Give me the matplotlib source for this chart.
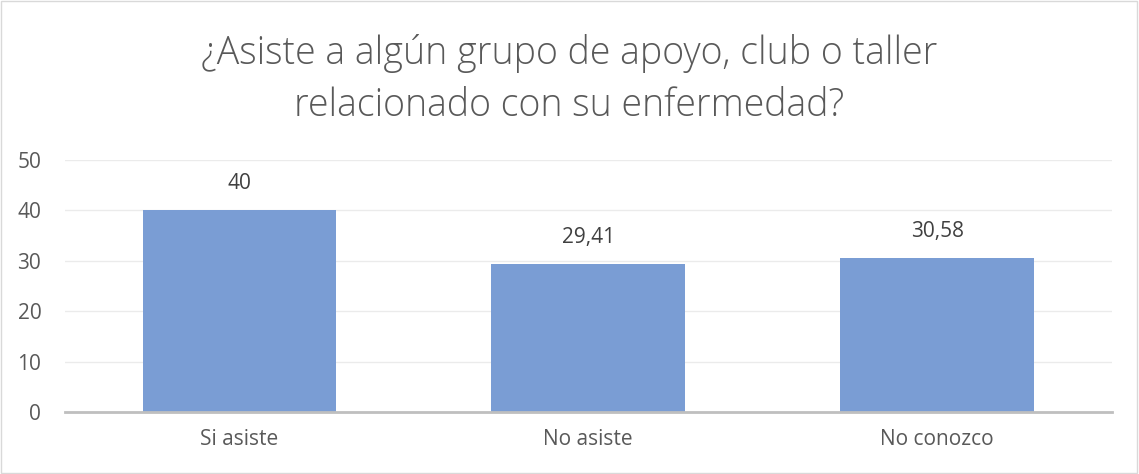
import matplotlib.pyplot as plt
from matplotlib.patches import Rectangle

plt.rcParams['font.family'] = ['Open Sans', 'DejaVu Sans']

# Datos
categorias = ['Si asiste', 'No asiste', 'No conozco']
valores = [40, 29.41, 30.58]
etiquetas = ['40', '29,41', '30,58']
ticks_y = [0, 10, 20, 30, 40, 50]
titulo = ['¿Asiste a algún grupo de apoyo, club o taller', 'relacionado con su enfermedad?']

fig = plt.figure(figsize=(11.39, 4.74), dpi=100)
ax = fig.add_axes([0.057, 0.1308, 0.919, 0.5316])

x = range(len(categorias))
barras = ax.bar(x, valores, width=0.555, color='#7A9DD4', zorder=2)

for b, t in zip(barras, etiquetas):
    ax.text(b.get_x() + b.get_width() / 2, b.get_height() + 3.2, t,
            ha='center', va='bottom', fontsize=15, color='#404040')

ax.set_xlim(-0.5, 2.5)
ax.set_ylim(0, 50)
ax.set_yticks(ticks_y)
ax.set_xticks(list(x))
ax.set_xticklabels(categorias)
ax.tick_params(axis='both', length=0, labelsize=15, labelcolor='#595959')
ax.tick_params(axis='y', pad=17)
ax.tick_params(axis='x', pad=12)
ax.grid(axis='y', color='#EBEBEB', linewidth=1, zorder=0)
for s in ['top', 'right', 'left']:
    ax.spines[s].set_visible(False)
ax.spines['bottom'].set_color('#BFBFBF')
ax.spines['bottom'].set_linewidth(2)

fig.text(0.5, 1 - 64 / 474, titulo[0], ha='center', va='baseline',
         fontsize=27, color='#595959', fontweight='light')
fig.text(0.5, 1 - 116 / 474, titulo[1], ha='center', va='baseline',
         fontsize=27, color='#595959', fontweight='light')

fig.patches.append(Rectangle((0.001, 0.002), 0.997, 0.996, transform=fig.transFigure,
                             fill=False, edgecolor='#D9D9D9', linewidth=1))

fig.savefig('out.png', dpi=100)
